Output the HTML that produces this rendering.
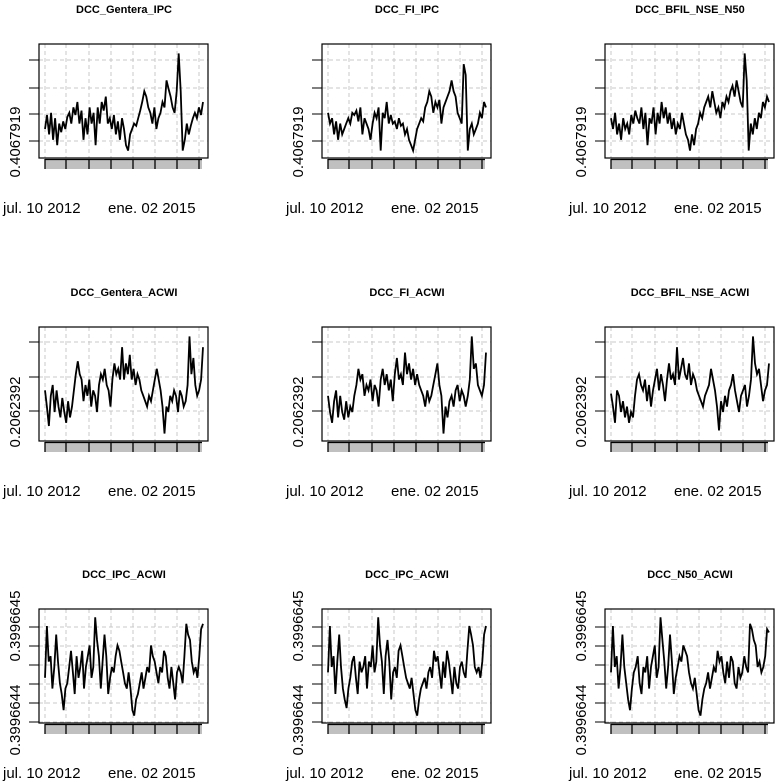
<!DOCTYPE html>
<html><head><meta charset="utf-8">
<style>
html,body{margin:0;padding:0;background:#fff;}
svg{display:block;font-family:"Liberation Sans",Arial,sans-serif;}
</style></head>
<body>
<svg id="chart" width="779" height="782" viewBox="0 0 779 782" xmlns="http://www.w3.org/2000/svg"></svg>
<script>
// Panel titles
const titles = ["DCC_Gentera_IPC","DCC_FI_IPC","DCC_BFIL_NSE_N50","DCC_Gentera_ACWI","DCC_FI_ACWI","DCC_BFIL_NSE_ACWI","DCC_IPC_ACWI","DCC_IPC_ACWI","DCC_N50_ACWI"];
// Date tick labels
const dateLabels = ["jul. 10 2012","ene. 02 2015"];
// Y axis labels per row
const rowYLabels = [["0.4067919"],["0.2062392"],["0.3996645","0.3996644"]];
// Series values (fraction of panel range, 0 = bottom, 1 = top)
const s1 = [0.25,0.38,0.2,0.4,0.15,0.35,0.1,0.3,0.22,0.32,0.25,0.36,0.4,0.3,0.45,0.38,0.5,0.3,0.42,0.15,0.35,0.2,0.45,0.3,0.4,0.1,0.45,0.3,0.5,0.42,0.55,0.3,0.35,0.25,0.38,0.2,0.32,0.15,0.35,0.25,0.1,0.05,0.2,0.25,0.3,0.28,0.35,0.42,0.5,0.6,0.55,0.45,0.4,0.3,0.45,0.25,0.35,0.4,0.5,0.45,0.7,0.62,0.55,0.45,0.4,0.6,0.95,0.6,0.05,0.15,0.3,0.2,0.28,0.35,0.4,0.35,0.45,0.38,0.5];
const s2 = [0.4,0.3,0.35,0.2,0.32,0.15,0.3,0.2,0.25,0.3,0.35,0.3,0.4,0.38,0.42,0.32,0.45,0.2,0.35,0.3,0.25,0.15,0.3,0.4,0.35,0.45,0.05,0.4,0.35,0.5,0.3,0.38,0.3,0.32,0.25,0.35,0.28,0.3,0.2,0.25,0.15,0.1,0.05,0.15,0.25,0.3,0.35,0.32,0.45,0.5,0.6,0.55,0.4,0.5,0.45,0.52,0.3,0.45,0.5,0.55,0.6,0.7,0.6,0.55,0.4,0.35,0.3,0.85,0.75,0.05,0.25,0.3,0.2,0.25,0.3,0.4,0.35,0.5,0.45];
const s3 = [0.35,0.25,0.4,0.2,0.3,0.15,0.35,0.25,0.3,0.2,0.38,0.3,0.42,0.35,0.3,0.45,0.25,0.4,0.1,0.35,0.3,0.45,0.2,0.4,0.3,0.5,0.35,0.45,0.3,0.4,0.25,0.35,0.2,0.3,0.25,0.4,0.3,0.2,0.15,0.05,0.2,0.1,0.25,0.3,0.4,0.35,0.45,0.5,0.55,0.45,0.6,0.5,0.4,0.45,0.35,0.5,0.45,0.55,0.5,0.6,0.65,0.55,0.7,0.6,0.5,0.45,0.95,0.7,0.05,0.3,0.2,0.35,0.25,0.4,0.35,0.5,0.45,0.55,0.5];
const s4 = [0.45,0.3,0.12,0.4,0.5,0.25,0.45,0.3,0.2,0.38,0.25,0.15,0.35,0.2,0.3,0.45,0.6,0.72,0.6,0.55,0.35,0.5,0.4,0.55,0.3,0.45,0.4,0.25,0.5,0.6,0.55,0.65,0.5,0.45,0.3,0.55,0.7,0.6,0.65,0.55,0.85,0.55,0.7,0.6,0.78,0.55,0.65,0.5,0.6,0.55,0.45,0.4,0.35,0.3,0.4,0.35,0.45,0.55,0.65,0.55,0.45,0.3,0.05,0.3,0.25,0.4,0.35,0.45,0.4,0.25,0.45,0.4,0.3,0.35,0.5,0.95,0.6,0.75,0.5,0.4,0.45,0.55,0.85];
const s5 = [0.4,0.25,0.15,0.35,0.45,0.2,0.4,0.25,0.18,0.35,0.2,0.3,0.25,0.4,0.5,0.65,0.55,0.6,0.4,0.5,0.45,0.55,0.35,0.5,0.45,0.3,0.55,0.65,0.5,0.6,0.45,0.55,0.35,0.6,0.75,0.55,0.6,0.5,0.8,0.6,0.7,0.55,0.65,0.5,0.6,0.5,0.45,0.4,0.3,0.45,0.35,0.4,0.5,0.6,0.7,0.5,0.4,0.05,0.3,0.2,0.35,0.4,0.3,0.45,0.5,0.35,0.45,0.4,0.3,0.4,0.55,0.95,0.65,0.7,0.5,0.45,0.4,0.5,0.8];
const s6 = [0.42,0.3,0.15,0.45,0.4,0.25,0.35,0.2,0.3,0.15,0.25,0.2,0.4,0.55,0.6,0.5,0.45,0.55,0.35,0.5,0.3,0.45,0.55,0.65,0.45,0.6,0.5,0.35,0.55,0.7,0.55,0.6,0.5,0.85,0.55,0.65,0.75,0.6,0.55,0.7,0.5,0.6,0.55,0.45,0.4,0.35,0.3,0.4,0.45,0.5,0.65,0.55,0.45,0.3,0.08,0.35,0.25,0.4,0.3,0.45,0.5,0.6,0.45,0.35,0.25,0.4,0.45,0.5,0.3,0.4,0.55,0.95,0.7,0.6,0.65,0.5,0.35,0.45,0.5,0.7];
const s7 = [0.4,0.88,0.55,0.6,0.3,0.5,0.8,0.55,0.35,0.25,0.1,0.3,0.35,0.5,0.65,0.45,0.25,0.6,0.4,0.5,0.65,0.3,0.5,0.6,0.7,0.4,0.5,0.96,0.75,0.6,0.3,0.55,0.8,0.6,0.25,0.4,0.5,0.45,0.6,0.7,0.65,0.55,0.45,0.35,0.3,0.45,0.3,0.1,0.05,0.2,0.25,0.35,0.45,0.3,0.4,0.5,0.45,0.7,0.6,0.55,0.45,0.35,0.5,0.45,0.65,0.6,0.4,0.3,0.5,0.35,0.2,0.45,0.5,0.45,0.35,0.6,0.9,0.8,0.75,0.55,0.45,0.5,0.4,0.6,0.85,0.9];
const s8 = [0.45,0.88,0.5,0.6,0.25,0.55,0.8,0.5,0.3,0.2,0.12,0.3,0.4,0.55,0.6,0.4,0.25,0.55,0.45,0.5,0.6,0.3,0.55,0.5,0.7,0.45,0.55,0.96,0.7,0.55,0.25,0.6,0.75,0.55,0.2,0.45,0.5,0.4,0.65,0.7,0.6,0.5,0.4,0.35,0.3,0.4,0.25,0.1,0.05,0.2,0.3,0.35,0.4,0.3,0.45,0.5,0.4,0.65,0.55,0.6,0.45,0.3,0.55,0.4,0.65,0.55,0.4,0.25,0.5,0.35,0.3,0.5,0.55,0.45,0.4,0.65,0.88,0.8,0.7,0.5,0.45,0.5,0.4,0.55,0.8,0.88];
const s9 = [0.45,0.88,0.5,0.6,0.3,0.5,0.8,0.5,0.35,0.2,0.1,0.3,0.45,0.5,0.6,0.35,0.25,0.5,0.45,0.6,0.3,0.5,0.6,0.7,0.4,0.5,0.96,0.75,0.55,0.3,0.5,0.8,0.55,0.25,0.4,0.5,0.6,0.55,0.7,0.65,0.6,0.45,0.35,0.3,0.4,0.25,0.1,0.05,0.2,0.3,0.35,0.45,0.3,0.4,0.5,0.45,0.65,0.55,0.6,0.45,0.35,0.55,0.4,0.6,0.55,0.35,0.3,0.5,0.4,0.45,0.6,0.5,0.45,0.9,0.85,0.75,0.7,0.5,0.55,0.45,0.5,0.6,0.85,0.82];
const series = [s1,s2,s3,s4,s5,s6,s7,s8,s9];

const NS = "http://www.w3.org/2000/svg";
const svg = document.getElementById("chart");
const colX = [0,283,566], rowY = [0,283,565];
const BOX = {l:39,r:208,t:44,b:158};
const PLOT = {l:45,r:203,t:48,b:156};
const xTicks = [45,66,89,111,133,155,177,199];
const rowGrid = [[60,88,114,141],[59,94,128],[62,81,100,119,138,157]];
const rowLabelY = [[142],[129],[61,155]];

function mk(tag, attrs, parent){
  const e = document.createElementNS(NS, tag);
  for (const k in attrs) e.setAttribute(k, attrs[k]);
  parent.appendChild(e);
  return e;
}

for (let p=0;p<9;p++){
  const r = Math.floor(p/3), c = p%3;
  const g = mk("g",{transform:`translate(${colX[c]},${rowY[r]})`},svg);
  
  

  const t = mk("text",{x:124,y:13,"text-anchor":"middle","font-size":"11","font-weight":"bold",fill:"#000"},g);
  t.textContent = titles[p];
  
  

  const grid = mk("g",{stroke:"#c8c8c8","stroke-width":"1","stroke-dasharray":"4,3"},g);
  
  
  xTicks.forEach(x=>mk("line",{x1:x,x2:x,y1:BOX.t,y2:BOX.b},grid));
  rowGrid[r].forEach(y=>{ if(y<BOX.b) mk("line",{x1:BOX.l,x2:BOX.r,y1:y,y2:y},grid); });

  const yt = mk("g",{stroke:"#000","stroke-width":"1"},g);
  
  
  rowGrid[r].forEach(y=>mk("line",{x1:29,x2:BOX.l,y1:y,y2:y},yt));

  rowYLabels[r].forEach((lab,i)=>{
    const yy = rowLabelY[r][i];
    const tx = mk("text",{x:0,y:0,"text-anchor":"middle","font-size":"15",fill:"#000",transform:`translate(20,${yy}) rotate(-90)`},g);
    tx.textContent = lab;
    
    
  });

  const band = mk("rect",{x:45,y:159,width:157,height:10,fill:"#c0c0c0"},g);
  
  
  const xt = mk("g",{stroke:"#000","stroke-width":"1.3"},g);
  
  
  mk("line",{x1:45,x2:202,y1:159.5,y2:159.5},xt);
  xTicks.forEach(x=>mk("line",{x1:x,x2:x,y1:159,y2:169},xt));

  const d1 = mk("text",{x:3,y:213,"font-size":"15",fill:"#000"},g);
  d1.textContent = dateLabels[0];
  
  
  const d2 = mk("text",{x:108,y:213,"font-size":"15",fill:"#000"},g);
  d2.textContent = dateLabels[1];
  
  

  const vals = series[p];
  const xs = i => PLOT.l + (PLOT.r-PLOT.l)*i/(vals.length-1);
  const ys = v => PLOT.b - (PLOT.b-PLOT.t)*v;
  let d = "";
  vals.forEach((v,i)=>{ d += (i?"L":"M") + xs(i).toFixed(1) + "," + ys(v).toFixed(1); });
  const line = mk("path",{d:d,fill:"none",stroke:"#000","stroke-width":"1.8","stroke-linejoin":"miter"},g);
  
  

  const box = mk("rect",{x:BOX.l,y:BOX.t,width:BOX.r-BOX.l,height:BOX.b-BOX.t,fill:"none",stroke:"#000","stroke-width":"1.2"},g);
  
  
}
</script>
</body></html>
